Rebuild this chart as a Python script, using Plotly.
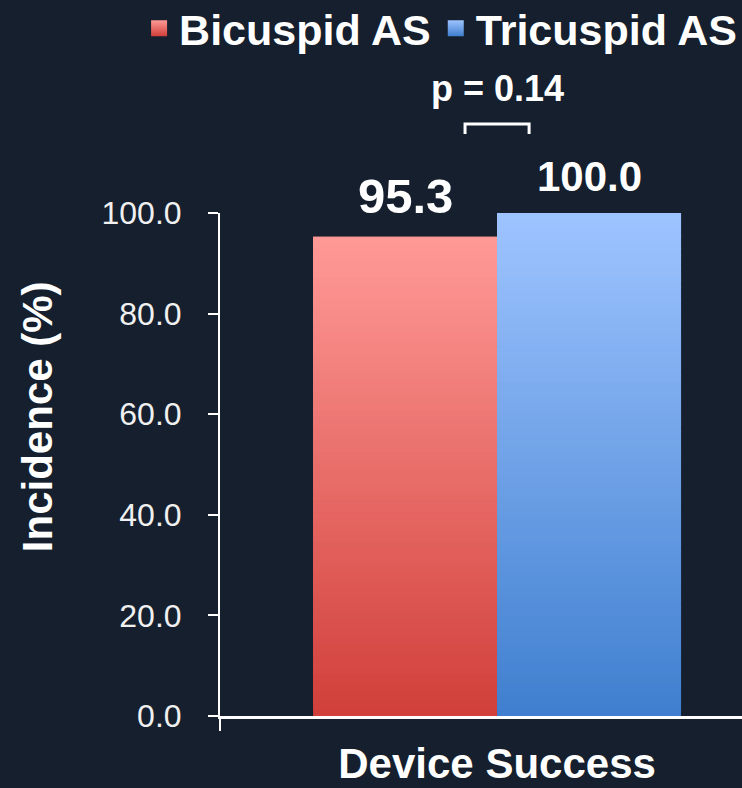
import plotly.graph_objects as go

# ---- data ----
categories = ["Device Success"]
series_names = ["Bicuspid AS", "Tricuspid AS"]
bicuspid = [95.3]
tricuspid = [100.0]
p_value_text = "p = 0.14"
y_ticks = [0, 20, 40, 60, 80, 100]

# ---- style ----
BG = "#151f2e"
FONT = "Liberation Sans"
# (top colour, bottom colour) of each series' vertical gradient
grad = {
    "Bicuspid AS": ((255, 154, 151), (209, 63, 58)),
    "Tricuspid AS": ((158, 196, 255), (63, 127, 207)),
}
N_SEG = 80
BARGAP = 0.336
label_sizes = [49, 42]
label_shifts = [12, 11]


def mix(c_top, c_bot, t):
    r, g, b = (round(c_bot[k] + (c_top[k] - c_bot[k]) * t) for k in range(3))
    return f"rgb({r},{g},{b})"


fig = go.Figure()

# each bar is built from thin stacked slices so it can carry a vertical gradient;
# every slice overlaps the next one a little so no seams show between them
for name, values in zip(series_names, [bicuspid, tricuspid]):
    top, bot = grad[name]
    for i in range(N_SEG):
        bases = [v * i / N_SEG for v in values]
        heights = [min(2.5 * v / N_SEG, v - b) for v, b in zip(values, bases)]
        fig.add_trace(go.Bar(
            x=categories,
            y=heights,
            base=bases,
            offsetgroup=name,
            marker=dict(color=mix(top, bot, (i + 0.5) / N_SEG), line=dict(width=0)),
            showlegend=False,
            hoverinfo="skip",
        ))

# legend swatches with the same gradient
for name in series_names:
    top, bot = grad[name]
    fig.add_trace(go.Scatter(
        x=[None], y=[None], mode="markers", name=name,
        marker=dict(symbol="square", size=16, color=f"rgb{top}",
                    gradient=dict(type="vertical", color=f"rgb{bot}")),
    ))

# value labels above each bar
half = (1 - BARGAP) / 4
for k, (values, size, shift) in enumerate(zip([bicuspid, tricuspid], label_sizes, label_shifts)):
    xc = -half if k == 0 else half
    fig.add_annotation(
        x=xc, y=values[0], xref="x", yref="y",
        text=f"<b>{values[0]:.1f}</b>", showarrow=False,
        yanchor="bottom", yshift=shift,
        font=dict(family=FONT, size=size, color="white"),
    )

# significance bracket and p-value
bw = 0.0578
fig.add_shape(
    type="path", xref="x", yref="paper",
    path=f"M {-bw} 1.157 L {-bw} 1.177 L {bw} 1.177 L {bw} 1.157",
    line=dict(color="white", width=3),
)
fig.add_annotation(
    x=0, y=1.2485, xref="x", yref="paper",
    text=f"<b>{p_value_text}</b>", showarrow=False,
    yanchor="middle", font=dict(family=FONT, size=36, color="white"),
)

# y-axis title
fig.add_annotation(
    x=-0.3506, y=0.596, xref="paper", yref="paper",
    text="<b>Incidence (%)</b>", textangle=-90, showarrow=False,
    xanchor="center", yanchor="middle",
    font=dict(family=FONT, size=42, color="white"),
)

fig.update_layout(
    width=742, height=788,
    paper_bgcolor=BG, plot_bgcolor=BG,
    margin=dict(l=220, r=0, t=213, b=72, autoexpand=False),
    barmode="group", bargap=BARGAP, bargroupgap=0,
    font=dict(family=FONT, color="white"),
    showlegend=True,
    legend=dict(
        orientation="h", x=-0.155, xanchor="left", y=1.436, yanchor="top",
        font=dict(family=FONT, size=43, color="white", weight="bold"),
        itemsizing="trace", bgcolor="rgba(0,0,0,0)", tracegroupgap=0,
        borderwidth=0,
    ),
)

fig.update_xaxes(
    type="category", range=[-0.5, 0.442], automargin=False,
    showline=True, linecolor="white", linewidth=3,
    ticks="outside", tickson="boundaries", ticklen=12, tickwidth=2, tickcolor="white",
    tickfont=dict(family=FONT, size=42, color="white", weight="bold"),
    ticklabelstandoff=9,
    showgrid=False, zeroline=False,
)
fig.update_yaxes(
    range=[0, 100], tickvals=y_ticks, ticktext=[f"{v:.1f}" for v in y_ticks],
    automargin=False,
    showline=True, linecolor="white", linewidth=2,
    ticks="outside", ticklen=10, tickwidth=2, tickcolor="white",
    tickfont=dict(family=FONT, size=32, color="#f0f0f0"),
    ticklabelstandoff=20,
    showgrid=False, zeroline=False,
)

fig.write_html("out.html")
